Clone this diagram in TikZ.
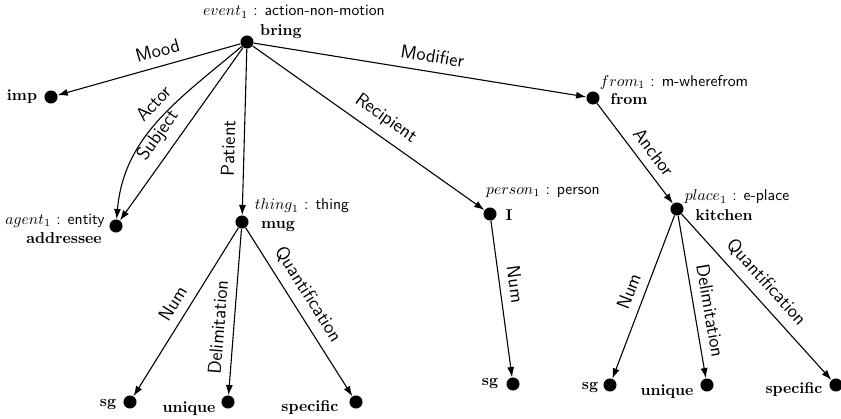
\documentclass[tikz,border=0pt]{standalone}
\usetikzlibrary{arrows.meta}
\tikzset{
  dot/.style={circle, fill=black, inner sep=0pt, minimum size=8.3pt},
  word/.style={font=\bfseries, inner sep=1pt},
  sem/.style={font=\sffamily, inner sep=1pt},
  rel/.style={font=\large\sffamily, sloped, above, inner sep=5.5pt},
  link/.style={-{Latex[length=6.5pt,width=4.5pt]}, line width=0.7pt}
}

\begin{document}
\begin{tikzpicture}[x=0.637pt, y=0.637pt]
  \useasboundingbox (0,0) rectangle (841,-418);
  % the dots
  \node[dot] (bring) at (247,-42) {};
  \node[dot] (imp) at (51,-97) {};
  \node[dot] (addressee) at (116,-226) {};
  \node[dot] (mug) at (242,-222) {};
  \node[dot] (mugsg) at (130,-402) {};
  \node[dot] (mugunique) at (228,-402) {};
  \node[dot] (mugspecific) at (356,-402) {};
  \node[dot] (from) at (593,-98) {};
  \node[dot] (me) at (490,-214) {};
  \node[dot] (mesg) at (513,-384) {};
  \node[dot] (kitchen) at (677,-209) {};
  \node[dot] (kitchensg) at (610,-385) {};
  \node[dot] (kitchenunique) at (707,-385) {};
  \node[dot] (kitchenspecific) at (836,-385) {};

  % what each dot stands for
  \node[sem] (bring-sem) at (294,-12) {$event_1$ : action-non-motion};
  \node[word] (bring-word) at (281,-32) {bring};
  \node[word] (imp-word) at (22,-97) {imp};
  \node[sem] (addressee-sem) at (55,-221) {$agent_1$ : entity};
  \node[word] (addressee-word) at (64,-238) {addressee};
  \node[sem] (mug-sem) at (302,-206) {$thing_1$ : thing};
  \node[word] (mug-word) at (278,-226) {mug};
  \node[word] (mugsg-word) at (108,-404) {sg};
  \node[word] (mugunique-word) at (189,-409) {unique};
  \node[word] (mugspecific-word) at (310,-408) {specific};
  \node[sem] (from-sem) at (674,-82) {$from_1$ : m-wherefrom};
  \node[word] (from-word) at (629,-99) {from};
  \node[sem] (me-sem) at (543,-192) {$person_1$ : person};
  \node[word] (me-word) at (509,-215) {I};
  \node[word] (mesg-word) at (490,-383) {sg};
  \node[sem] (kitchen-sem) at (737,-197) {$place_1$ : e-place};
  \node[word] (kitchen-word) at (724,-215) {kitchen};
  \node[word] (kitchensg-word) at (590,-387) {sg};
  \node[word] (kitchenunique-word) at (667,-392) {unique};
  \node[word] (kitchenspecific-word) at (794,-390) {specific};

  % relations
  \draw[link] (bring) -- node[rel, pos=0.43] {Mood} (imp);
  \draw[link] (bring) to[out=220, in=85] node[rel, pos=0.45] {Actor} (addressee);
  \draw[link] (bring) -- node[rel, pos=0.57] {Subject} (addressee);
  \draw[link] (bring) -- node[rel, pos=0.6] {Patient} (mug);
  \draw[link] (bring) -- node[rel, pos=0.53] {Recipient} (me);
  \draw[link] (bring) -- node[rel, pos=0.53] {Modifier} (from);
  \draw[link] (from) -- node[rel, pos=0.58] {Anchor} (kitchen);
  \draw[link] (mug) -- node[rel] {Num} (mugsg);
  \draw[link] (mug) -- node[rel, pos=0.6] {Delimitation} (mugunique);
  \draw[link] (mug) -- node[rel, pos=0.45] {Quantification} (mugspecific);
  \draw[link] (me) -- node[rel, pos=0.42] {Num} (mesg);
  \draw[link] (kitchen) -- node[rel] {Num} (kitchensg);
  \draw[link] (kitchen) -- node[rel, pos=0.6] {Delimitation} (kitchenunique);
  \draw[link] (kitchen) -- node[rel, pos=0.48] {Quantification} (kitchenspecific);
\end{tikzpicture}
\end{document}
